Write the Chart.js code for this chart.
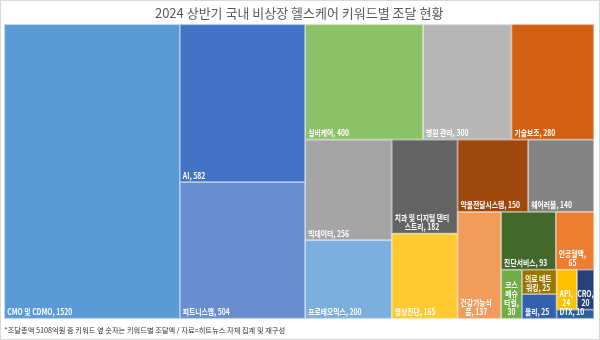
<!DOCTYPE html>
<html lang="ko">
<head>
<meta charset="utf-8">
<title>2024 상반기 국내 비상장 헬스케어 키워드별 조달 현황</title>
<script src="https://cdn.jsdelivr.net/npm/chart.js"></script>
<style>
  html, body { margin: 0; padding: 0; background: #fff; }
  #fundingChart { display: block; }
</style>
</head>
<body>
<canvas id="fundingChart" width="600" height="340"></canvas>
<script>
const chartTitle = '2024 상반기 국내 비상장 헬스케어 키워드별 조달 현황';
const footNote = '*조달총액 5108억원 중 키워드 옆 숫자는 키워드별 조달액 / 자료=히트뉴스 자체 집계 및 재구성';

const keywords = ['CMO 및 CDMO', 'AI', '피트니스앱', '실버케어', '병원 관리', '기술보조',
                  '빅데이터', '프로테오믹스', '치과 및 디지털 덴티스트리', '영상진단', '약물전달시스템',
                  '웨어러블', '건강기능식품', '진단서비스', '인공혈액', '코스메슈티컬', '의료 네트워킹',
                  '물리', 'API', 'CRO', 'DTX'];
const amounts = [1520, 582, 504, 400, 300, 280, 256, 200, 182, 165, 150, 140, 137, 93, 65, 30, 25, 25, 24, 20, 10];
const cellColors = ['#5B9BD5', '#4472C4', '#698ED0', '#8CC168', '#B7B7B7', '#D16013',
                    '#A5A5A5', '#7CAFDD', '#636363', '#FFCA2F', '#9E480E',
                    '#848484', '#F19C5B', '#43682B', '#ED7D31', '#71AD47', '#9A7405',
                    '#3461AE', '#FFC000', '#27427A', '#2D6199'];

// squarified layout, strips run along the short side of what is left;
// ratio is the cell shape (width / height) the strips try to get close to
function squarify(values, left, top, right, bottom, ratio) {
    const boxes = [];
    let rest = values.reduce((a, b) => a + b, 0);
    let i = 0;
    while (i < values.length) {
        const w = right - left, h = bottom - top;
        const unit = w * h / rest;
        const column = w >= h;
        const side = column ? h : w;
        const worst = (from, to, sum) => {
            const thick = sum * unit / side;
            let m = 0;
            for (let k = from; k < to; k++) {
                const len = values[k] / sum * side;
                const r = column ? thick / len : len / thick;
                m = Math.max(m, r / ratio, ratio / r);
            }
            return m;
        };
        let j = i + 1, sum = values[i];
        let best = worst(i, j, sum);
        while (j < values.length) {
            const next = worst(i, j + 1, sum + values[j]);
            if (next > best) break;
            best = next;
            sum += values[j];
            j++;
        }
        const thick = sum * unit / side;
        let pos = column ? top : left;
        for (let k = i; k < j; k++) {
            const len = values[k] / sum * side;
            boxes.push(column ? {x: left, y: pos, w: thick, h: len} : {x: pos, y: top, w: len, h: thick});
            pos += len;
        }
        if (column) left += thick; else top += thick;
        rest -= sum;
        i = j;
    }
    return boxes;
}

// hangul may break between any two syllables, latin words and numbers stay whole
function wrapText(ctx, text, maxWidth) {
    const tokens = text.match(/[\uAC00-\uD7A3][,.]?|[^\s\uAC00-\uD7A3]+|\s+/g) || [];
    const lines = [];
    let line = '', gap = false;
    tokens.forEach(tok => {
        if (/^\s+$/.test(tok)) { gap = line !== ''; return; }
        const next = line + (gap ? ' ' : '') + tok;
        if (line === '' || ctx.measureText(next).width <= maxWidth) {
            line = next;
        } else {
            lines.push(line);
            line = tok;
        }
        gap = false;
    });
    if (line) lines.push(line);
    return lines;
}

class TreemapCell extends Chart.Element {
    draw(ctx) {
        const {x, y, width, height, options} = this;
        if (!options || !(width > 0) || !(height > 0)) return;
        ctx.save();
        ctx.fillStyle = options.backgroundColor;
        ctx.fillRect(x, y, width, height);
        const bw = options.borderWidth;
        if (bw > 0) {
            ctx.strokeStyle = options.borderColor;
            ctx.lineWidth = bw;
            ctx.strokeRect(x + bw / 2, y + bw / 2, width - bw, height - bw);
        }
        if (this.text) {
            const sx = options.labelScaleX;
            ctx.font = options.labelWeight + ' ' + options.labelSize + 'px ' + options.labelFamily;
            ctx.fillStyle = options.labelColor;
            ctx.textBaseline = 'alphabetic';
            const lines = wrapText(ctx, this.text, (width - 6) / sx);
            const widths = lines.map(l => ctx.measureText(l).width * sx);
            const blockW = Math.max(...widths);
            let bx = x + 3;
            if (bx + blockW > x + width - 1) bx = x + (width - blockW) / 2;
            lines.forEach((ln, k) => {
                ctx.save();
                ctx.translate(bx + (blockW - widths[k]) / 2, y + height - 3.5 - (lines.length - 1 - k) * options.labelLineHeight);
                ctx.scale(sx, 1);
                ctx.fillText(ln, 0, 0);
                ctx.restore();
            });
        }
        ctx.restore();
    }
    inRange(mx, my) {
        return mx >= this.x && mx <= this.x + this.width && my >= this.y && my <= this.y + this.height;
    }
    getCenterPoint() {
        return {x: this.x + this.width / 2, y: this.y + this.height / 2};
    }
}
TreemapCell.id = 'treemapCell';
TreemapCell.defaults = {
    backgroundColor: '#999',
    borderColor: 'rgba(255,255,255,0.6)',
    borderWidth: 0.8,
    labelColor: '#fff',
    labelSize: 8.5,
    labelWeight: 'bold',
    labelFamily: '"Noto Sans CJK KR", sans-serif',
    labelScaleX: 0.8,
    labelLineHeight: 9
};

class TreemapController extends Chart.DatasetController {
    parse(start, count) {
        const data = this.getDataset().data;
        const parsed = this._cachedMeta._parsed;
        for (let i = start; i < start + count; i++) parsed[i] = +data[i];
    }
    update(mode) {
        const meta = this._cachedMeta;
        this.updateElements(meta.data, 0, meta.data.length, mode);
    }
    updateElements(cells, start, count, mode) {
        const area = this.chart.chartArea;
        if (!area) return;
        const values = this._cachedMeta._parsed;
        const labels = this.chart.data.labels || [];
        const boxes = squarify(values, area.left, area.top, area.right, area.bottom, this.options.cellRatio);
        for (let i = start; i < start + count; i++) {
            const b = boxes[i];
            this.updateElement(cells[i], i, {
                x: b.x, y: b.y, width: b.w, height: b.h,
                text: labels[i] + ', ' + values[i],
                options: this.resolveDataElementOptions(i, mode)
            }, mode);
        }
    }
}
TreemapController.id = 'treemap';
TreemapController.defaults = {
    dataElementType: 'treemapCell',
    datasetElementType: false,
    cellRatio: 1
};

Chart.register(TreemapCell, TreemapController);

const chartBackdrop = {
    id: 'chartBackdrop',
    beforeDraw(chart) {
        const {ctx, width, height} = chart;
        ctx.save();
        ctx.fillStyle = '#fff';
        ctx.fillRect(0, 0, width, height);
        ctx.strokeStyle = '#d9d9d9';
        ctx.lineWidth = 1;
        ctx.strokeRect(0.5, 0.5, width - 1, height - 1);
        ctx.restore();
    }
};

const ctx = document.getElementById('fundingChart').getContext('2d');
const fundingChart = new Chart(ctx, {
    type: 'treemap',
    data: {
        labels: keywords,
        datasets: [{
            label: '조달액',
            data: amounts,
            backgroundColor: cellColors,
            cellRatio: 0.75
        }]
    },
    options: {
        responsive: false,
        animation: false,
        events: [],
        layout: {
            padding: {left: 4.3, right: 6, top: 2.7, bottom: 1.6}
        },
        plugins: {
            legend: { display: false },
            tooltip: { enabled: false },
            title: {
                display: true,
                text: chartTitle,
                color: '#595959',
                font: { family: '"Noto Sans CJK KR", sans-serif', size: 13, weight: 'normal' },
                padding: { top: 3, bottom: 3 }
            },
            subtitle: {
                display: true,
                position: 'bottom',
                align: 'start',
                text: footNote,
                color: '#333333',
                font: { family: '"Noto Sans CJK KR", sans-serif', size: 7.25, weight: 'normal' },
                padding: { top: 7, bottom: 4 }
            }
        }
    },
    plugins: [chartBackdrop]
});
</script>
</body>
</html>
